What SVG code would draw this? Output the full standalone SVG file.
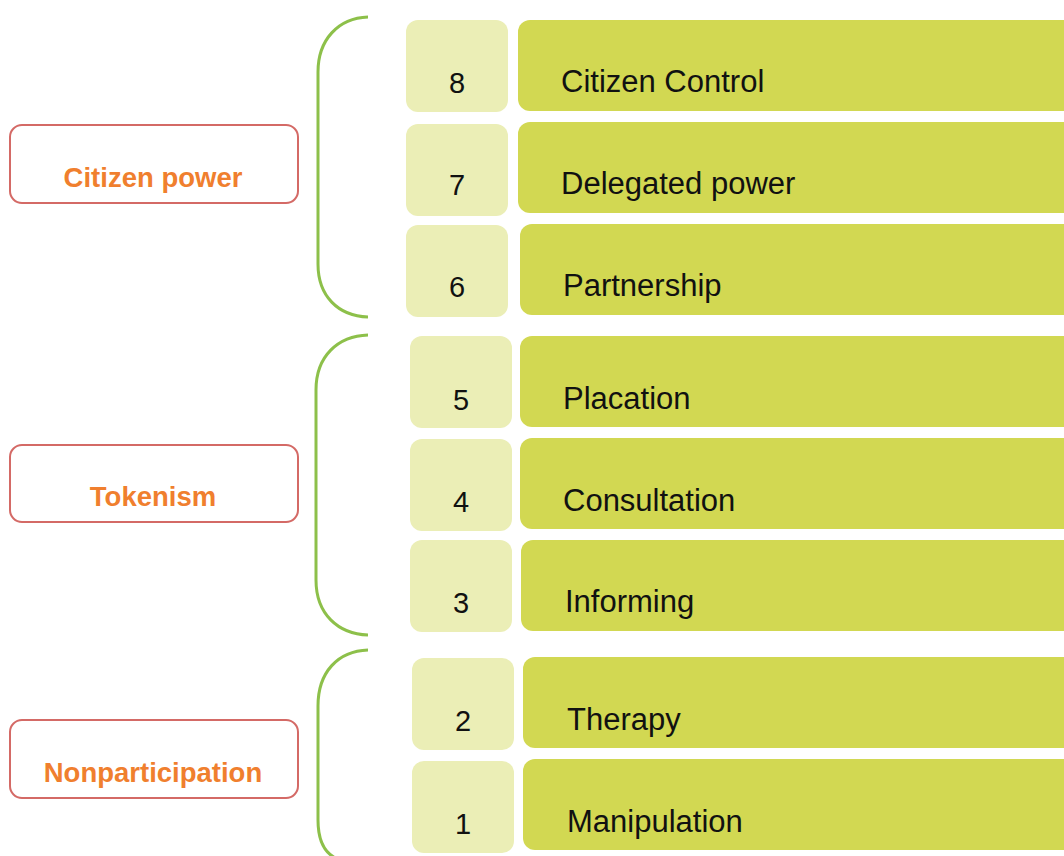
<svg xmlns="http://www.w3.org/2000/svg" width="1064" height="856" viewBox="0 0 1064 856">
<style>
.num{fill:#EBEEB6}
.bar{fill:#D2D852}
.nt{font-family:"Liberation Sans",Arial,sans-serif;font-size:29px;fill:#111;text-anchor:middle}
.lt{font-family:"Liberation Sans",Arial,sans-serif;font-size:31px;fill:#111}
.cat{fill:#fff;stroke:#D46A66;stroke-width:2}
.ct{font-family:"Liberation Sans",Arial,sans-serif;font-size:27.5px;font-weight:bold;fill:#F07F2E;text-anchor:middle}
.br{fill:none;stroke:#8DC04A;stroke-width:3}
</style>
<rect width="1064" height="856" fill="#fff"/>
<g id="connectors">
<path class="br" d="M368,17 C338,18 318,40 318,72 L318,264 C318,296 338,316 368,317"/>
<path class="br" d="M368,335 C338,336 316,356 316,390 L316,580 C316,614 338,634 368,635"/>
<path class="br" d="M368,650 C338,651 318,672 318,706 L318,820 C318,846 328,856 340,860"/>
</g>
<g id="cat-citizen-power"><rect class="cat" x="10" y="125" width="288" height="78" rx="12"/><text class="ct" x="153" y="187">Citizen power</text></g>
<g id="cat-tokenism"><rect class="cat" x="10" y="445" width="288" height="77" rx="12"/><text class="ct" x="153" y="506">Tokenism</text></g>
<g id="cat-nonparticipation"><rect class="cat" x="10" y="720" width="288" height="78" rx="12"/><text class="ct" x="153" y="782">Nonparticipation</text></g>
<g id="rung-8"><rect class="num" x="406" y="20" width="102" height="92" rx="12"/><rect class="bar" x="518" y="20" width="560" height="91" rx="12"/><text class="nt" x="457" y="93">8</text><text class="lt" x="561" y="92">Citizen Control</text></g>
<g id="rung-7"><rect class="num" x="406" y="124" width="102" height="92" rx="12"/><rect class="bar" x="518" y="122" width="560" height="91" rx="12"/><text class="nt" x="457" y="195">7</text><text class="lt" x="561" y="194">Delegated power</text></g>
<g id="rung-6"><rect class="num" x="406" y="225" width="102" height="92" rx="12"/><rect class="bar" x="520" y="224" width="560" height="91" rx="12"/><text class="nt" x="457" y="297">6</text><text class="lt" x="563" y="296">Partnership</text></g>
<g id="rung-5"><rect class="num" x="410" y="336" width="102" height="92" rx="12"/><rect class="bar" x="520" y="336" width="560" height="91" rx="12"/><text class="nt" x="461" y="410">5</text><text class="lt" x="563" y="409">Placation</text></g>
<g id="rung-4"><rect class="num" x="410" y="439" width="102" height="92" rx="12"/><rect class="bar" x="520" y="438" width="560" height="91" rx="12"/><text class="nt" x="461" y="512">4</text><text class="lt" x="563" y="511">Consultation</text></g>
<g id="rung-3"><rect class="num" x="410" y="540" width="102" height="92" rx="12"/><rect class="bar" x="521" y="540" width="560" height="91" rx="12"/><text class="nt" x="461" y="613">3</text><text class="lt" x="565" y="612">Informing</text></g>
<g id="rung-2"><rect class="num" x="412" y="658" width="102" height="92" rx="12"/><rect class="bar" x="523" y="657" width="560" height="91" rx="12"/><text class="nt" x="463" y="731">2</text><text class="lt" x="567" y="730">Therapy</text></g>
<g id="rung-1"><rect class="num" x="412" y="761" width="102" height="92" rx="12"/><rect class="bar" x="523" y="759" width="560" height="91" rx="12"/><text class="nt" x="463" y="834">1</text><text class="lt" x="567" y="832">Manipulation</text></g>
</svg>
